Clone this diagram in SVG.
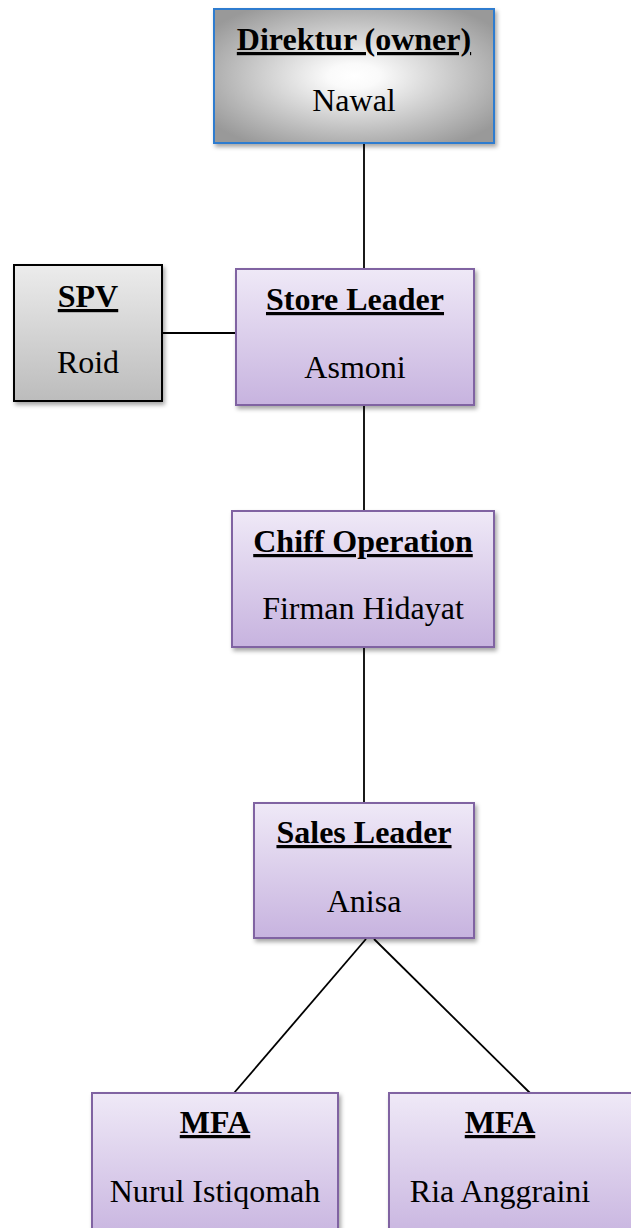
<svg xmlns="http://www.w3.org/2000/svg" width="631" height="1228" viewBox="0 0 631 1228">
<style>
.t{font-family:"Liberation Serif","Times New Roman",serif;font-size:32px;font-weight:bold;text-decoration:underline;text-decoration-thickness:2.5px;text-underline-offset:4px;text-anchor:middle;fill:#000}
.n{font-family:"Liberation Serif","Times New Roman",serif;font-size:32px;text-anchor:middle;fill:#000}
.p{fill:url(#purple);stroke:#8064a2;stroke-width:2;filter:url(#sh)}
.c{stroke:#000;stroke-width:1.8;fill:none}
</style>
<defs>
<linearGradient id="purple" x1="0" y1="0" x2="0" y2="1">
<stop offset="0" stop-color="#efe9f7"/>
<stop offset="1" stop-color="#c7b3df"/>
</linearGradient>
<linearGradient id="gray" x1="0" y1="0" x2="0" y2="1">
<stop offset="0" stop-color="#ececec"/>
<stop offset="1" stop-color="#bcbcbc"/>
</linearGradient>
<radialGradient id="silver" cx="0.5" cy="0.5" r="0.62">
<stop offset="0" stop-color="#ffffff"/>
<stop offset="0.15" stop-color="#fafafa"/>
<stop offset="1" stop-color="#999999"/>
</radialGradient>
<filter id="sh" x="-10%" y="-10%" width="125%" height="130%">
<feDropShadow dx="2" dy="3" stdDeviation="2" flood-color="#000" flood-opacity="0.35"/>
</filter>
</defs>
<g id="connectors">
<line class="c" x1="364" y1="143" x2="364" y2="269"/>
<line class="c" x1="162" y1="333" x2="236" y2="333"/>
<line class="c" x1="364" y1="405" x2="364" y2="511"/>
<line class="c" x1="364" y1="647" x2="364" y2="803"/>
<line class="c" x1="366" y1="939" x2="234" y2="1093"/>
<line class="c" x1="374" y1="939" x2="530" y2="1093"/>
</g>
<g id="direktur">
<rect x="214" y="9" width="280" height="134" fill="url(#silver)" stroke="#2e7bcf" stroke-width="2" filter="url(#sh)"/>
<text class="t" x="354" y="50">Direktur (owner)</text>
<text class="n" x="354" y="111">Nawal</text>
</g>
<g id="spv">
<rect x="14" y="265" width="148" height="136" fill="url(#gray)" stroke="#000" stroke-width="2" filter="url(#sh)"/>
<text class="t" x="88" y="307">SPV</text>
<text class="n" x="88" y="373">Roid</text>
</g>
<g id="store-leader">
<rect class="p" x="236" y="269" width="238" height="136"/>
<text class="t" x="355" y="310">Store Leader</text>
<text class="n" x="355" y="378">Asmoni</text>
</g>
<g id="chiff-operation">
<rect class="p" x="232" y="511" width="262" height="136"/>
<text class="t" x="363" y="552">Chiff Operation</text>
<text class="n" x="363" y="619">Firman Hidayat</text>
</g>
<g id="sales-leader">
<rect class="p" x="254" y="803" width="220" height="135"/>
<text class="t" x="364" y="843">Sales Leader</text>
<text class="n" x="364" y="912">Anisa</text>
</g>
<g id="mfa-1">
<rect class="p" x="92" y="1093" width="246" height="150"/>
<text class="t" x="215" y="1133">MFA</text>
<text class="n" x="215" y="1202">Nurul Istiqomah</text>
</g>
<g id="mfa-2">
<rect class="p" x="389" y="1093" width="260" height="150"/>
<text class="t" x="500" y="1133">MFA</text>
<text class="n" x="500" y="1202">Ria Anggraini</text>
</g>
</svg>
